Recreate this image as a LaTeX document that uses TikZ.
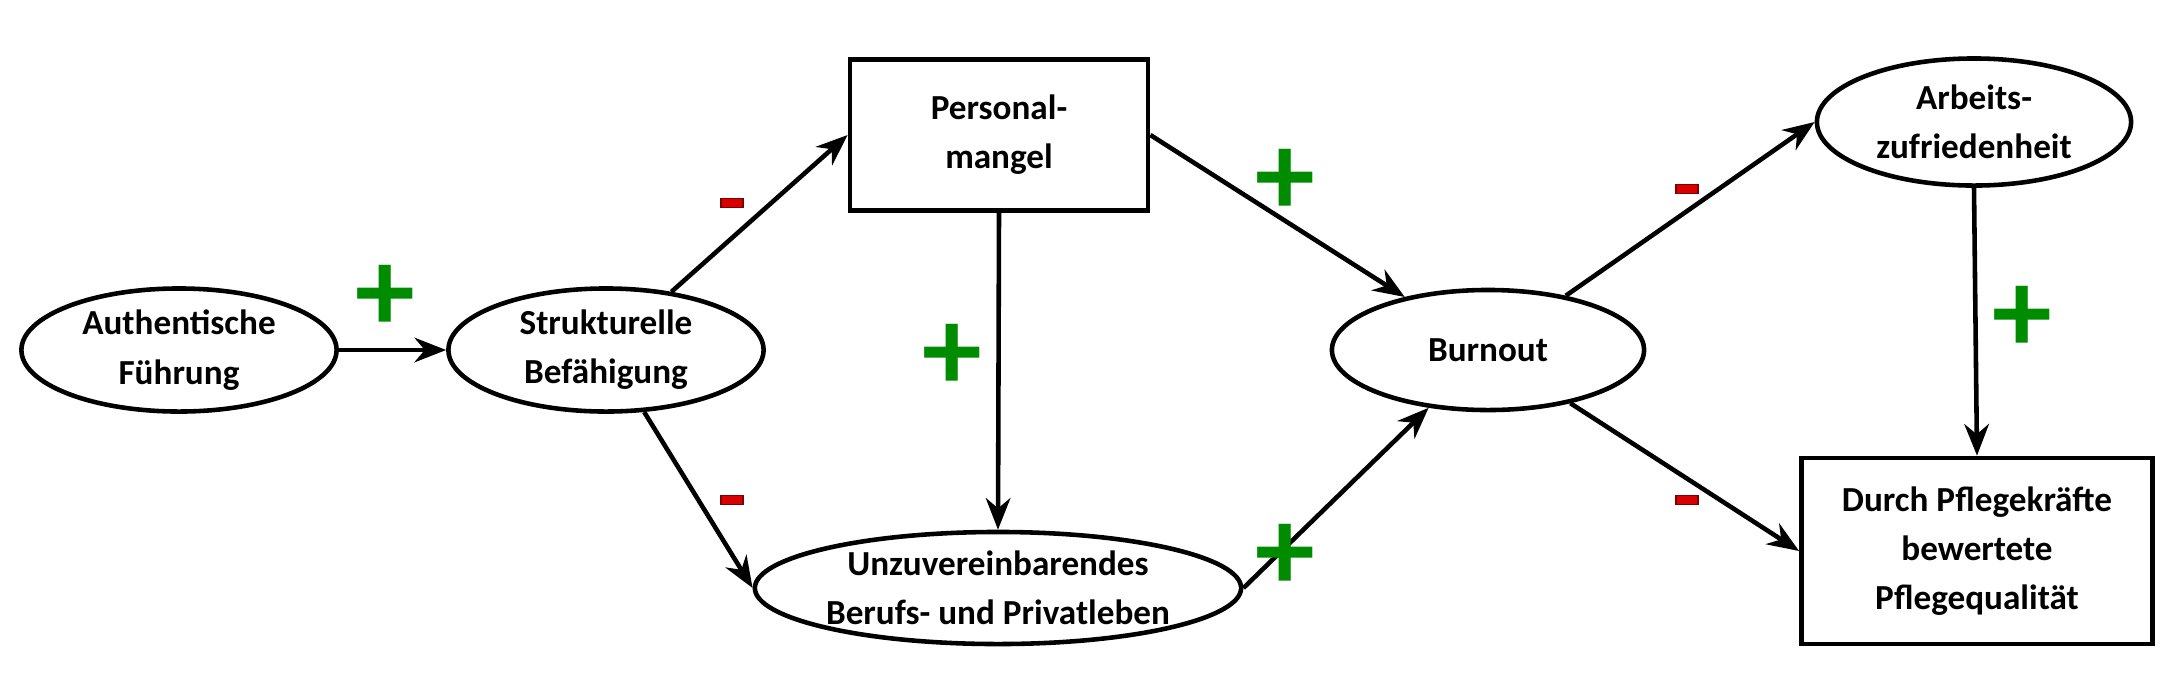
\documentclass[tikz,border=0pt]{standalone}
\usepackage{fontspec}
\setmainfont{Carlito}
\usetikzlibrary{shapes.geometric,arrows.meta}

\begin{document}
\begin{tikzpicture}[
	x=0.01cm, y=-0.01cm,
	every node/.style = {font=\bfseries\fontsize{10}{14}\selectfont, align=center},
	oval/.style = {ellipse, draw, line width=1.3pt, inner sep=0pt},
	box/.style = {rectangle, draw, line width=1.3pt, inner sep=0pt},
	link/.style = {-{Stealth[length=9pt,width=7pt]}, line width=1.3pt},
	plus/.style = {text=green!55!black, font=\bfseries\fontsize{34}{34}\selectfont},
	minus/.style = {fill=red!85!black, draw=red!50!black, minimum width=0.22cm, minimum height=0.09cm, inner sep=0pt},
]
\useasboundingbox (0,0) rectangle (2184,675);

\node[oval, minimum width=3.15cm, minimum height=1.23cm] (fuehrung) at (179,350) {Authentische\\Führung};
\node[oval, minimum width=3.15cm, minimum height=1.23cm] (befaehigung) at (606,350) {Strukturelle\\Befähigung};
\node[box, minimum width=2.98cm, minimum height=1.51cm] (personal) at (999,135) {Personal-\\mangel};
\node[oval, minimum width=4.2cm, minimum height=1.12cm] (privat) at (998,588) {Unzuvereinbarendes\\Berufs- und Privatleben};
\node[oval, minimum width=3.12cm, minimum height=1.2cm] (burnout) at (1488,350) {Burnout};
\node[oval, minimum width=3.14cm, minimum height=1.27cm] (zufrieden) at (1974,122) {Arbeits-\\zufriedenheit};
\node[box, minimum width=3.51cm, minimum height=1.86cm] (qualitaet) at (1977,551) {Durch Pflegekräfte\\bewertete\\Pflegequalität};

\draw[link] (fuehrung) -- (befaehigung);
\draw[link] (befaehigung) -- (personal.west);
\draw[link] (befaehigung) -- (privat.west);
\draw[link] (personal.south) -- (privat.north);
\draw[link] (personal.east) -- (burnout);
\draw[link] (privat.east) -- (burnout);
\draw[link] (burnout) -- (zufrieden.west);
\draw[link] (burnout) -- (qualitaet.west);
\draw[link] (zufrieden.south) -- (qualitaet.north);

% signs
\node[plus] (s1) at (385,298) {+};
\node[minus] (s2) at (732,203) {};
\node[minus] (s3) at (732,500) {};
\node[plus] (s4) at (952,357) {+};
\node[plus] (s5) at (1285,182) {+};
\node[plus] (s6) at (1285,557) {+};
\node[minus] (s7) at (1687,189) {};
\node[minus] (s8) at (1687,500) {};
\node[plus] (s9) at (2022,319) {+};
\end{tikzpicture}
\end{document}
